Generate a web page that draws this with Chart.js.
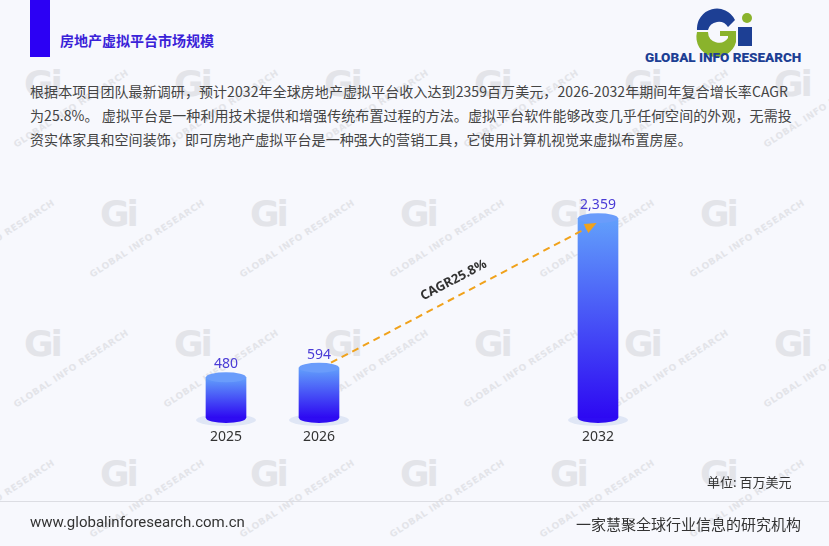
<!DOCTYPE html>
<html>
<head>
<meta charset="utf-8">
<script src="https://cdn.jsdelivr.net/npm/chart.js@4/dist/chart.umd.min.js"></script>
<style>
  html, body { margin: 0; padding: 0; }
  body { width: 829px; height: 546px; background: #f7f8fd; position: relative; overflow: hidden;
         font-family: "Noto Sans CJK SC", "Noto Sans", sans-serif; color: #333; }
  .bar-head { position: absolute; left: 30px; top: 0; width: 20px; height: 57px; background: #2c00f4; }
  .titre { position: absolute; left: 60px; top: 30px; font-size: 14px; font-weight: bold; color: #3a22d8; }
  .texte { position: absolute; left: 30px; top: 79px; font-size: 14px; line-height: 24px; color: #444; white-space: nowrap; letter-spacing: 0.08px; }
  .unite { position: absolute; left: 707px; top: 472px; font-size: 13px; color: #333; }
  .ligne { position: absolute; left: 0; top: 501px; width: 829px; height: 1px; background: #dcdde3; }
  .site { position: absolute; left: 30px; top: 513px; font-size: 15px; color: #333; font-family: "Liberation Sans Narrow", "Roboto", sans-serif; }
  .slogan { position: absolute; right: 28px; top: 513px; font-size: 15px; color: #333; }
  .logo { position: absolute; left: 640px; top: 8px; }
  .filigrane { position: absolute; width: 120px; height: 90px; color: #e3e4e9; pointer-events: none; }
  .filigrane .gi { position: absolute; left: 12px; top: 0; font: 900 36px "DejaVu Sans", sans-serif; letter-spacing: -3px; }
  .filigrane .txt { position: absolute; left: 0px; top: 78px; font: bold 9px "DejaVu Sans", sans-serif; white-space: nowrap;
                    letter-spacing: 0.5px; transform: rotate(-33deg); transform-origin: 0 0; }
  #graph { position: absolute; left: 0; top: 0; }
</style>
</head>
<body>
<div id="fond"></div>
<div class="bar-head"></div>
<div class="titre">房地产虚拟平台市场规模</div>
<svg class="logo" width="175" height="60">
  <path d="M57 22 A20 20 0 0 1 95 12 L88 19 A11 11 0 0 0 68 22 Z" fill="#1d3f94"/>
  <path d="M57 24 L68 24 A11 11 0 0 0 88 30 L88 28 L80 28 L80 23 L96 23 L96 34 A20 20 0 0 1 57 24 Z" fill="#8ab32c"/>
  <circle cx="107" cy="10" r="5" fill="#8ab32c"/>
  <path d="M98 19 L112 19 L112 38 L98 38 Z" fill="#1d3f94"/>
  <text x="5" y="54" font-family="Roboto, sans-serif" font-weight="900" font-size="13.5" fill="#1d3f94">GLOBAL INFO RESEARCH</text>
</svg>
<div class="texte">根据本项目团队最新调研，预计2032年全球房地产虚拟平台收入达到2359百万美元，2026-2032年期间年复合增长率CAGR<br>为25.8%。 虚拟平台是一种利用技术提供和增强传统布置过程的方法。虚拟平台软件能够改变几乎任何空间的外观，无需投<br>资实体家具和空间装饰，即可房地产虚拟平台是一种强大的营销工具，它使用计算机视觉来虚拟布置房屋。</div>
<canvas id="graph" width="829" height="546"></canvas>
<div class="unite">单位: 百万美元</div>
<div class="ligne"></div>
<div class="site">www.globalinforesearch.com.cn</div>
<div class="slogan">一家慧聚全球行业信息的研究机构</div>

<script>
const annees = ["2025", "2026", "", "", "2032"];
const valeurs = [480, 594, null, null, 2359];
const etiquettes = ["480", "594", "", "", "2,359"];
const cagrTexte = "CAGR25.8%";

// filigranes en fond
const fond = document.getElementById("fond");
const rangees = [[85, 37], [215, 113], [345, 37], [475, 113]];
for (let r of rangees) {
    for (let x = r[1] - 150; x < 900; x += 150) {
        const f = document.createElement("div");
        f.className = "filigrane";
        f.style.left = (x - 25) + "px";
        f.style.top = (r[0] - 22) + "px";
        f.innerHTML = '<div class="gi">Gi</div><div class="txt">GLOBAL INFO RESEARCH</div>';
        fond.appendChild(f);
    }
}

// cylindres, etiquettes et fleche CAGR
const decorCylindre = {
    id: "decorCylindre",
    beforeDatasetsDraw(chart) {
        const ctx = chart.ctx;
        const meta = chart.getDatasetMeta(0);
        ctx.save();
        meta.data.forEach((bar, i) => {
            if (valeurs[i] === null) return;
            ctx.fillStyle = "#dfe6f5";
            ctx.beginPath();
            ctx.ellipse(bar.x, bar.base + 2, bar.width / 2 + 10, 6, 0, 0, Math.PI * 2);
            ctx.fill();
        });
        ctx.restore();
    },
    afterDatasetsDraw(chart) {
        const ctx = chart.ctx;
        const meta = chart.getDatasetMeta(0);
        ctx.save();
        meta.data.forEach((bar, i) => {
            if (valeurs[i] === null) return;
            const r = bar.width / 2;
            ctx.fillStyle = "#2e0cf2";
            ctx.beginPath();
            ctx.ellipse(bar.x, bar.base, r, 5, 0, 0, Math.PI);
            ctx.fill();
            ctx.fillStyle = "#6a9cfb";
            ctx.beginPath();
            ctx.ellipse(bar.x, bar.y, r, 5, 0, 0, Math.PI * 2);
            ctx.fill();
            ctx.fillStyle = "#4a3bd6";
            ctx.font = "14px 'Noto Sans', sans-serif";
            ctx.textAlign = "center";
            ctx.textBaseline = "alphabetic";
            ctx.fillText(etiquettes[i], bar.x, bar.y - 9);
        });

        // fleche CAGR
        const a = meta.data[1], b = meta.data[4];
        const x1 = a.x + 12, y1 = a.y - 5;
        const x2 = b.x - 4, y2 = b.y + 6;
        ctx.strokeStyle = "#f0a21c";
        ctx.lineWidth = 2;
        ctx.setLineDash([7, 5]);
        ctx.beginPath();
        ctx.moveTo(x1, y1);
        ctx.lineTo(x2, y2);
        ctx.stroke();
        ctx.setLineDash([]);
        const ang = Math.atan2(y2 - y1, x2 - x1);
        ctx.fillStyle = "#f0a21c";
        ctx.beginPath();
        ctx.moveTo(x2 + 3 * Math.cos(ang), y2 + 3 * Math.sin(ang));
        ctx.lineTo(x2 - 9 * Math.cos(ang) + 5 * Math.sin(ang), y2 - 9 * Math.sin(ang) - 5 * Math.cos(ang));
        ctx.lineTo(x2 - 9 * Math.cos(ang) - 5 * Math.sin(ang), y2 - 9 * Math.sin(ang) + 5 * Math.cos(ang));
        ctx.closePath();
        ctx.fill();

        const mx = (x1 + x2) / 2 - 4, my = (y1 + y2) / 2 - 4;
        ctx.translate(mx, my);
        ctx.rotate(ang);
        ctx.fillStyle = "#333";
        ctx.font = "bold 13px 'Noto Sans', sans-serif";
        ctx.textAlign = "center";
        ctx.textBaseline = "bottom";
        ctx.fillText(cagrTexte, 0, -4);
        ctx.restore();
    }
};

const ctx = document.querySelector("#graph").getContext("2d");

const data = {
    labels: annees,
    datasets: [{
        label: "市场规模",
        data: valeurs,
        barThickness: 40,
        // degrade propre a chaque barre
        backgroundColor: function (context) {
            const chart = context.chart;
            const area = chart.chartArea;
            const v = context.raw;
            if (!area || v === null || v === undefined) return "#4f6cf8";
            const haut = chart.scales.y.getPixelForValue(v);
            const g = chart.ctx.createLinearGradient(0, haut, 0, area.bottom);
            g.addColorStop(0, "#62a0fb");
            g.addColorStop(1, "#2d08f2");
            return g;
        },
    }],
};

const config = {
    type: "bar",
    data: data,
    plugins: [decorCylindre],
    options: {
        animation: false,
        responsive: false,
        layout: { padding: { left: 179.5, right: 184.5, top: 181, bottom: 0 } },
        plugins: { legend: { display: false }, tooltip: { enabled: false } },
        scales: {
            x: {
                grid: { display: false, drawTicks: false },
                border: { display: false },
                ticks: { color: "#333", font: { size: 14, family: "'Noto Sans', sans-serif" }, padding: 11 },
                afterFit: (axis) => { axis.height = 128; }
            },
            y: {
                display: false,
                min: 0,
                max: 2800
            }
        }
    },
};

const graphique = new Chart(ctx, config);
</script>
</body>
</html>
